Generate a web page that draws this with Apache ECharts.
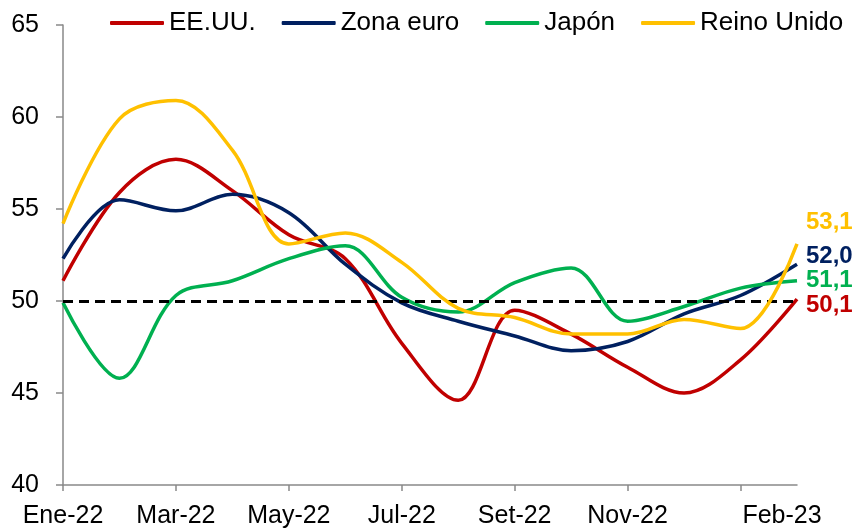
<!DOCTYPE html>
<html>
<head>
<meta charset="utf-8">
<script src="https://cdn.jsdelivr.net/npm/echarts@6/dist/echarts.min.js"></script>
<style>
html,body{margin:0;padding:0;background:#fff;}
#chart{width:857px;height:529px;}
</style>
</head>
<body>
<div id="chart"></div>
<script>
const categories = ['Ene-22','Feb-22','Mar-22','Abr-22','May-22','Jun-22','Jul-22','Ago-22','Set-22','Oct-22','Nov-22','Dic-22','Ene-23','Feb-23'];
const eeuu = [51.1, 55.9, 57.7, 56.0, 53.6, 52.3, 47.7, 44.6, 49.5, 48.2, 46.4, 45.0, 46.8, 50.1];
const zonaEuro = [52.3, 55.5, 54.9, 55.8, 54.8, 52.0, 49.9, 48.9, 48.1, 47.3, 47.8, 49.3, 50.3, 52.0];
const japon = [49.9, 45.8, 50.3, 51.1, 52.3, 53.0, 50.2, 49.4, 51.0, 51.8, 48.9, 49.7, 50.7, 51.1];
const reinoUnido = [54.2, 59.9, 60.9, 58.2, 53.1, 53.7, 52.1, 49.6, 49.1, 48.2, 48.2, 49.0, 48.5, 53.1];
const seriesNames = ['EE.UU.', 'Zona euro', 'Japón', 'Reino Unido'];
const yTicks = [40, 45, 50, 55, 60, 65];
const refLevel = 50;

const colors = ['#C00000', '#002060', '#00B050', '#FFC000'];
const endOffsets = [[4, 6], [4, -8], [4, 0], [4, -22]];
const FONT = '"Liberation Sans", Arial, sans-serif';
const allData = [eeuu, zonaEuro, japon, reinoUnido];

const chart = echarts.init(document.getElementById('chart'), null, {renderer: 'canvas'});

const series = allData.map((d, i) => ({
  name: seriesNames[i],
  type: 'line',
  data: d,
  smooth: 0.35,
  showSymbol: false,
  symbol: 'none',
  color: colors[i],
  lineStyle: {width: 3.5, color: colors[i]},
  z: 2 + i,
  endLabel: {
    show: true,
    formatter: p => p.value.toFixed(1).replace('.', ','),
    color: colors[i],
    fontWeight: 'bold',
    fontSize: 24,
    fontFamily: FONT,
    distance: 5,
    offset: endOffsets[i]
  }
}));

series.push({
  name: 'ref',
  type: 'line',
  data: [],
  z: 10,
  markLine: {
    silent: true,
    symbol: ['none', 'none'],
    label: {show: false},
    lineStyle: {color: '#000', type: [10, 6], width: 3},
    data: [{yAxis: refLevel}]
  }
});

chart.setOption({
  animation: false,
  color: colors,
  textStyle: {fontFamily: FONT},
  grid: {left: 63, right: 60, top: 25, bottom: 44},
  legend: {
    data: seriesNames,
    left: 105,
    top: 5,
    itemWidth: 54,
    itemHeight: 4,
    itemGap: 26,
    icon: 'roundRect',
    textStyle: {fontSize: 26, color: '#000', fontFamily: FONT}
  },
  xAxis: {
    type: 'category',
    data: categories,
    boundaryGap: false,
    axisLine: {lineStyle: {color: '#898989', width: 1.5}},
    axisTick: {show: true, length: 6, interval: (i) => i % 2 === 0, lineStyle: {color: '#898989', width: 1.5}},
    axisLabel: {
      interval: (i) => (i % 2 === 0 && i < 12) || i === 13,
      formatter: (v, i) => i === 13 ? '{last|' + v + '}' : v,
      rich: {last: {fontSize: 25, color: '#000', fontFamily: FONT, padding: [0, 30, 0, 0]}},
      fontSize: 25,
      color: '#000',
      fontFamily: FONT,
      margin: 19
    },
    splitLine: {show: false}
  },
  yAxis: {
    type: 'value',
    min: yTicks[0],
    max: yTicks[yTicks.length - 1],
    interval: 5,
    axisLine: {show: true, lineStyle: {color: '#898989', width: 1.5}},
    axisTick: {show: true, length: 7, inside: false, lineStyle: {color: '#898989', width: 1.5}},
    axisLabel: {fontSize: 25, color: '#000', fontFamily: FONT, margin: 24},
    splitLine: {show: false}
  },
  series: series
});
</script>
</body>
</html>
